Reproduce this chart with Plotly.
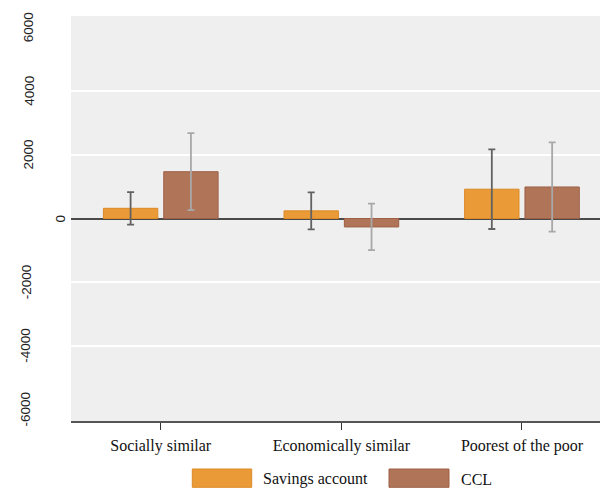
import plotly.graph_objects as go

# ---- data ----
categories = ["Socially similar", "Economically similar", "Poorest of the poor"]
savings_values = [320, 240, 920]
savings_errors = [510, 580, 1250]
ccl_values = [1470, -265, 990]
ccl_errors = [1210, 730, 1400]
series_names = ["Savings account", "CCL"]
ytick_values = [-6000, -4000, -2000, 0, 2000, 4000, 6000]
ytick_labels = ["-6000", "-4000", "-2000", "0", "2000", "4000", "6000"]
grid_values = [-4000, -2000, 2000, 4000]

# ---- styling ----
W, H = 600, 489
ML, MR, MT, MB = 71, 0, 16, 68
PW, PH = W - ML - MR, H - MT - MB
SAV_FILL, SAV_LINE = "#EA9A37", "#DD8A25"
CCL_FILL, CCL_LINE = "#B07558", "#9E6045"
SERIF = "Liberation Serif, Times New Roman, serif"
SANS = "Liberation Sans, Arial, sans-serif"


def px_x(p):
    return (p - ML) / PW


def px_y(p):
    return (H - MB - p) / PH


fig = go.Figure()
fig.add_trace(go.Bar(
    x=categories, y=savings_values, name=series_names[0],
    marker=dict(color=SAV_FILL, line=dict(color=SAV_LINE, width=1)),
    error_y=dict(type="data", array=savings_errors, color="#626262",
                 thickness=1.8, width=3.5),
    showlegend=False,
))
fig.add_trace(go.Bar(
    x=categories, y=ccl_values, name=series_names[1],
    marker=dict(color=CCL_FILL, line=dict(color=CCL_LINE, width=1)),
    error_y=dict(type="data", array=ccl_errors, color="#a8a8a8",
                 thickness=1.8, width=3.5),
    showlegend=False,
))

# y tick labels as rotated text (Stata-like placement)
label_centers_px = {1: 60, 4: 28.7, 5: 26}
for v, t in zip(ytick_values, ytick_labels):
    cx = label_centers_px.get(len(t), 27)
    fig.add_annotation(
        x=0, xref="paper", y=v, yref="y", text=t, textangle=-90,
        showarrow=False, xanchor="center", yanchor="middle",
        xshift=cx - ML, font=dict(family=SANS, size=13.5, color="#222"),
    )

# manual legend
legend_items = [
    (series_names[0], SAV_FILL, SAV_LINE, 192.3, 251.7, 261.0),
    (series_names[1], CCL_FILL, CCL_LINE, 389.0, 449.0, 458.5),
]
for name, fill, line, x0, x1, tx in legend_items:
    fig.add_shape(type="rect", xref="paper", yref="paper",
                  x0=px_x(x0), x1=px_x(x1), y0=px_y(487.3), y1=px_y(469),
                  fillcolor=fill, line=dict(color=line, width=1))
    fig.add_annotation(x=px_x(tx), xref="paper", y=px_y(479), yref="paper",
                       text=name, showarrow=False, xanchor="left",
                       yanchor="middle",
                       font=dict(family=SERIF, size=16, color="#111"))

fig.update_layout(
    width=W, height=H,
    margin=dict(l=ML, r=MR, t=MT, b=MB, pad=0),
    paper_bgcolor="white", plot_bgcolor="#EFEFEF",
    barmode="group", bargap=0.332, bargroupgap=0.099,
    xaxis=dict(
        type="category", range=[-0.497, 2.432], showgrid=False,
        showline=True, linecolor="#555", linewidth=1.5,
        ticks="outside", ticklen=7, tickwidth=1.2, tickcolor="#333",
        tickfont=dict(family=SERIF, size=16, color="#111"),
        ticklabelstandoff=2,
        zeroline=False,
    ),
    yaxis=dict(
        range=[-6360, 6360], tickvals=grid_values, showticklabels=False,
        showgrid=True, gridcolor="white", gridwidth=1.5,
        zeroline=True, zerolinecolor="#4a4a4a", zerolinewidth=1.5,
        showline=False, ticks="",
    ),
)

fig.write_html(
    "out.html",
    config={"displayModeBar": False},
    post_script="document.body.style.margin='0';"
                "document.body.style.overflow='hidden';",
)
